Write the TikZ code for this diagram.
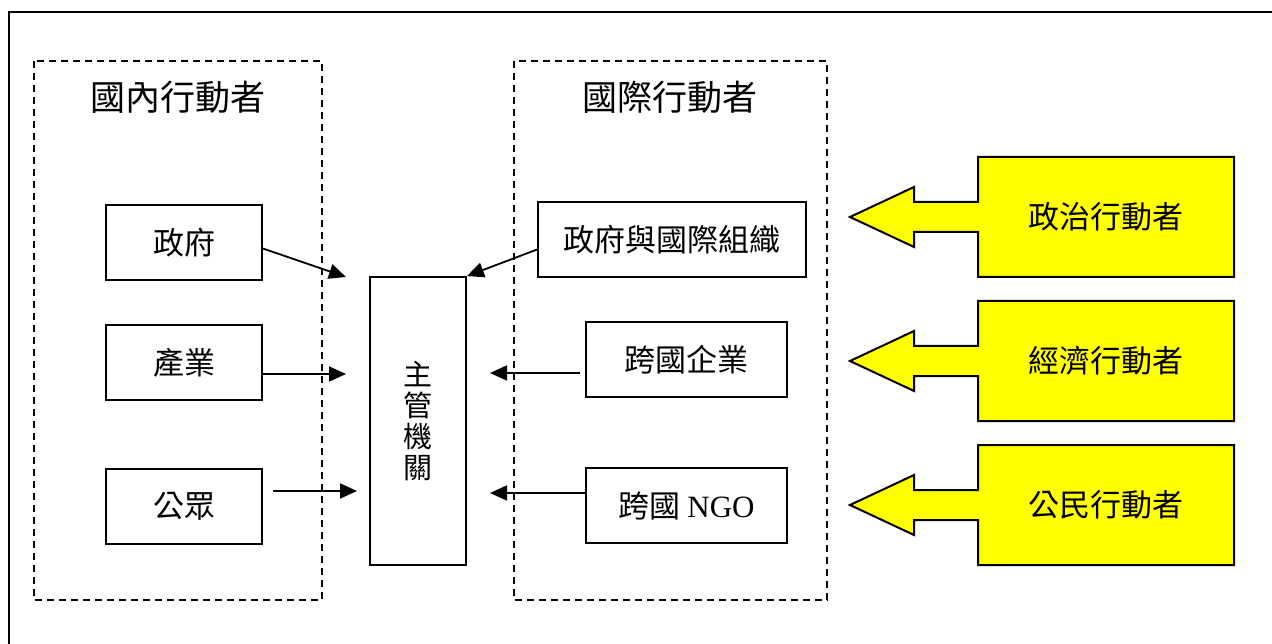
\documentclass[tikz,border=0pt]{standalone}
\usepackage{fontspec}
\setmainfont{Noto Sans CJK TC}
\newfontfamily\latinserif{Liberation Serif}
\usetikzlibrary{arrows.meta}
\definecolor{actyellow}{RGB}{255,255,0}
\begin{document}
\begin{tikzpicture}[x=1pt,y=-1pt,
  box/.style={draw, line width=1.8pt, inner sep=0pt, font=\fontsize{31}{33}\selectfont},
  group/.style={draw, line width=1.7pt, dash pattern=on 7pt off 5pt},
  title/.style={inner sep=0pt, font=\fontsize{35}{38}\selectfont},
  arr/.style={line width=1.8pt, -{Triangle[length=17pt,width=15pt]}},
  actor/.style={draw, fill=actyellow, line width=2pt, line join=miter},
  actortext/.style={inner sep=0pt, font=\fontsize{31}{33}\selectfont}]
\useasboundingbox (0,0) rectangle (1272,644);
\clip (0,0) rectangle (1272,644);
% outer frame
\draw[line width=2.6pt] (9,12) rectangle (1300,680);
% groups
\draw[group] (34,61) rectangle (322,600);
\draw[group] (514,61) rectangle (827,600);
\node[title] (tdom) at (178,97) {國內行動者};
\node[title] (tint) at (670,97) {國際行動者};
% domestic boxes
\node[box, minimum width=156pt, minimum height=75pt] (gov) at (184,242.5) {政府};
\node[box, minimum width=156pt, minimum height=75pt] (ind) at (184,362.5) {產業};
\node[box, minimum width=156pt, minimum height=75pt] (pub) at (184,506.5) {公眾};
% authority
\node[box, minimum width=96pt, minimum height=288pt, align=center,
      font=\fontsize{29}{31}\selectfont] (auth) at (418,421) {主\\管\\機\\關};
% international boxes
\node[box, minimum width=268pt, minimum height=75pt] (igo) at (672,239.5) {政府與國際組織};
\node[box, minimum width=201pt, minimum height=75pt] (mnc) at (686.5,359.5) {跨國企業};
\node[box, minimum width=201pt, minimum height=75pt] (ngo) at (686.5,505.5) {跨國 {\latinserif NGO}};
% free arrow ends
\coordinate (e1) at (346,277);
\coordinate (e2) at (346,374);
\coordinate (e3) at (357,491);
\coordinate (s3) at (273,491);
\coordinate (e5) at (490,373);
\coordinate (s5) at (580,373);
\coordinate (e6) at (490,493);
% arrows
\draw[arr] ([yshift=-6pt]gov.east) -- (e1);
\draw[arr] (ind.east |- e2) -- (e2);
\draw[arr] (s3) -- (e3);
\draw[arr] ([yshift=-10pt]igo.west) -- (auth.north east);
\draw[arr] (s5) -- (e5);
\draw[arr] (ngo.west |- e6) -- (e6);
% yellow actors
\foreach \name/\cy/\txt in {pol/217/政治行動者, eco/361/經濟行動者, civ/505/公民行動者}{
  \draw[actor] (978,\cy-60) -- (1234,\cy-60) -- (1234,\cy+60) -- (978,\cy+60)
     -- (978,\cy+15) -- (914,\cy+15) -- (914,\cy+30) -- (850,\cy)
     -- (914,\cy-30) -- (914,\cy-15) -- (978,\cy-15) -- cycle;
  \node[actortext] (\name) at (1106,\cy) {\txt};
}
\end{tikzpicture}
\end{document}
